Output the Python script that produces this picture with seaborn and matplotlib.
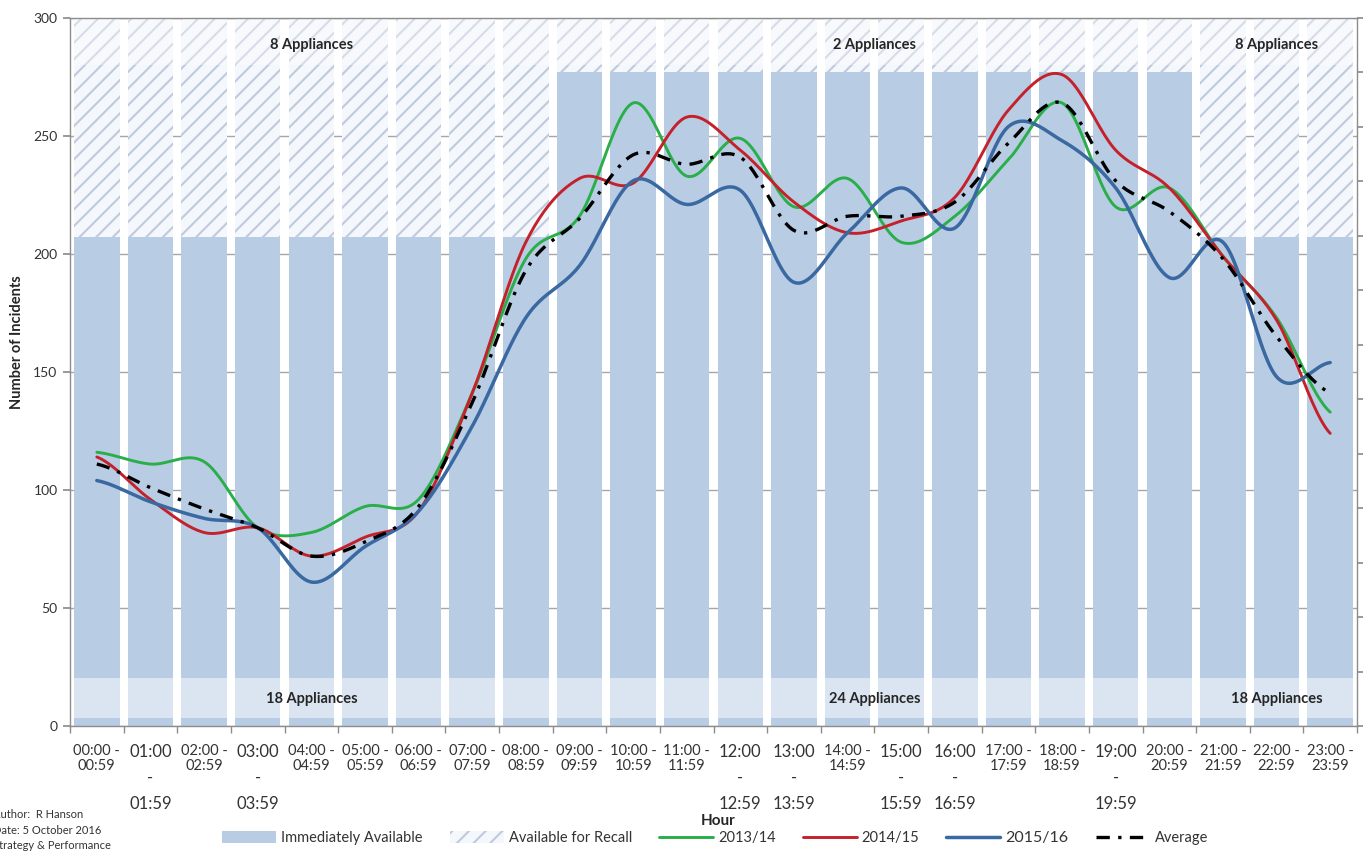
import numpy as np
import pandas as pd
import matplotlib
matplotlib.use("Agg")
import matplotlib.pyplot as plt
from matplotlib.patches import Patch
from matplotlib.lines import Line2D
import seaborn as sns

sns.set_theme(style="white")
plt.rcParams["font.family"] = ["Lato", "DejaVu Sans"]
plt.rcParams["hatch.linewidth"] = 1.5

# %% data
hours = ["00:00 -\n00:59", "01:00\n-\n01:59", "02:00 -\n02:59", "03:00\n-\n03:59",
         "04:00 -\n04:59", "05:00 -\n05:59", "06:00 -\n06:59", "07:00 -\n07:59",
         "08:00 -\n08:59", "09:00 -\n09:59", "10:00 -\n10:59", "11:00 -\n11:59",
         "12:00\n-\n12:59", "13:00\n-\n13:59", "14:00 -\n14:59", "15:00\n-\n15:59",
         "16:00\n-\n16:59", "17:00 -\n17:59", "18:00 -\n18:59", "19:00\n-\n19:59",
         "20:00 -\n20:59", "21:00 -\n21:59", "22:00 -\n22:59", "23:00 -\n23:59"]
wrapped = [1, 3, 12, 13, 15, 16, 19]   # labels Excel wrapped onto three lines

avail_now = [207, 207, 207, 207, 207, 207, 207, 207, 207,
             277, 277, 277, 277, 277, 277, 277, 277, 277, 277, 277, 277,
             207, 207, 207]
avail_total = [300] * 24

inc_1314 = [116, 111, 112, 84, 82, 93, 96, 141, 198, 216, 264, 233,
            249, 220, 232, 205, 216, 240, 264, 220, 228, 199, 173, 133]
inc_1415 = [114, 96, 82, 84, 72, 80, 91, 141, 205, 232, 230, 258,
            244, 222, 209, 214, 224, 261, 276, 244, 228, 199, 172, 124]
inc_1516 = [104, 95, 88, 84, 61, 76, 91, 127, 173, 195, 231, 221,
            227, 188, 209, 228, 211, 254, 248, 228, 190, 205, 148, 154]
inc_avg = [111, 101, 92, 84, 72, 78, 93, 137, 193, 215, 242, 238,
           241, 210, 216, 216, 222, 247, 264, 231, 218, 198, 165, 141]

groups = [(0, 8), (9, 20), (21, 23)]
recall_labels = ["8 Appliances", "2 Appliances", "8 Appliances"]
ready_labels = ["18 Appliances", "24 Appliances", "18 Appliances"]

BLUE_BAR = "#b8cce4"
BAND = "#dbe5f1"
HATCH_BG = "#f4f7fb"
HATCH = "#bfcbdd"
GREEN = "#2aae4a"
RED = "#c4212b"
DKBLUE = "#3a69a2"
GRID = "#a6a6a6"


def smooth(vals, n=24):
    # Excel-style smoothed line (Catmull-Rom through every data point)
    p = np.asarray(vals, dtype=float)
    pp = np.concatenate([[p[0]], p, [p[-1]]])
    xs, ys = [], []
    for i in range(len(p) - 1):
        p0, p1, p2, p3 = pp[i], pp[i + 1], pp[i + 2], pp[i + 3]
        t = np.linspace(0, 1, n, endpoint=False)
        y = 0.5 * ((2 * p1) + (-p0 + p2) * t + (2 * p0 - 5 * p1 + 4 * p2 - p3) * t ** 2
                   + (-p0 + 3 * p1 - 3 * p2 + p3) * t ** 3)
        xs.extend(i + t)
        ys.extend(y)
    xs.append(len(p) - 1)
    ys.append(p[-1])
    return np.array(xs), np.array(ys)


df = pd.DataFrame({"hour": np.arange(24), "now": avail_now, "total": avail_total})

fig = plt.figure(figsize=(13.65, 8.52), dpi=100)
ax = fig.add_axes([70 / 1365, 1 - 726 / 852, 1287 / 1365, 708 / 852])

# gridlines sit behind the bars and show through the gaps
ax.set_axisbelow(True)
ax.yaxis.grid(True, color=GRID, lw=1)

sns.barplot(data=df, x="hour", y="total", color=HATCH_BG, saturation=1, width=0.85,
            hatch="//", edgecolor=HATCH, linewidth=0, ax=ax)
sns.barplot(data=df, x="hour", y="now", color=BLUE_BAR, saturation=1, width=0.85,
            linewidth=0, ax=ax)
# pale bands top and bottom
ax.bar(df["hour"], [16.9] * 24, bottom=3.4, width=0.85, color=BAND, linewidth=0, zorder=2)
ax.bar(df["hour"], [20] * 24, bottom=280, width=0.85, color="white", alpha=0.35,
       linewidth=0, zorder=2)

series = [(inc_1314, GREEN, 2.1, "-"), (inc_1415, RED, 2.1, "-"),
          (inc_1516, DKBLUE, 2.5, "-"), (inc_avg, "black", 2.4, (0, (4, 2.5, 1, 2.5)))]
for vals, col, lw, ls in series:
    sx, sy = smooth(vals)
    sns.lineplot(x=sx, y=sy, ax=ax, color=col, lw=lw, linestyle=ls, sort=False,
                 estimator=None, legend=False, zorder=5)

for (a, b), top, bot in zip(groups, recall_labels, ready_labels):
    ax.text((a + b) / 2, 288.5, top, ha="center", va="center", fontsize=10.5,
            fontweight="bold", color="#262626", zorder=6)
    ax.text((a + b) / 2, 11.4, bot, ha="center", va="center", fontsize=10.5,
            fontweight="bold", color="#262626", zorder=6)

ax.set_xlim(-0.5, 23.5)
ax.set_ylim(0, 300)
ax.set_yticks(range(0, 301, 50))
ax.set_xticks(range(24))
ax.set_xticklabels(hours)
ax.set_xticks(np.arange(-0.5, 24, 1), minor=True)
ax.set_xlabel("")
ax.set_ylabel("")
ax.tick_params(axis="x", which="major", length=0, pad=13, labelsize=10.5, labelcolor="#333333")
ax.tick_params(axis="x", which="minor", length=5, color="#8c8c8c", direction="out", bottom=True)
ax.tick_params(axis="y", length=5, color="#8c8c8c", direction="out", left=True,
               labelsize=10, labelcolor="#333333", pad=4)
for i, lab in enumerate(ax.get_xticklabels()):
    if i in wrapped:
        lab.set_fontsize(12)
        lab.set_linespacing(1.75)
    else:
        lab.set_linespacing(1.05)
for sp in ax.spines.values():
    sp.set_color("#8c8c8c")
    sp.set_linewidth(1)

# right-hand appliance scale (ticks only)
ax2 = ax.twinx()
ax2.set_ylim(0, 26)
ax2.set_yticks(range(0, 27, 2))
ax2.set_yticklabels([])
ax2.tick_params(axis="y", length=4, color="#8c8c8c", direction="out", right=True)
ax2.grid(False)
for sp in ax2.spines.values():
    sp.set_visible(False)

fig.text(17 / 1365, 1 - 342 / 852, "Number of Incidents", rotation=90, ha="center",
         va="center", fontsize=10.5, fontweight="bold")
fig.text(718 / 1365, 1 - 821 / 852, "Hour", ha="center", va="center", fontsize=11,
         fontweight="bold")
fig.text(-7 / 1365, 1 - 809 / 852, "Author:  R Hanson\nDate: 5 October 2016\nStrategy & Performance",
         ha="left", va="top", fontsize=8, linespacing=1.5, color="#333333")

handles = [
    Patch(facecolor=BLUE_BAR, edgecolor="none", label="Immediately Available"),
    Patch(facecolor=HATCH_BG, edgecolor=HATCH, hatch="//", linewidth=0, label="Available for Recall"),
    Line2D([], [], color=GREEN, lw=2.1, label="2013/14"),
    Line2D([], [], color=RED, lw=2.1, label="2014/15"),
    Line2D([], [], color=DKBLUE, lw=2.5, label="2015/16"),
    Line2D([], [], color="black", lw=2.4, linestyle=(0, (4, 2.5, 1, 2.5)), label="Average"),
]
leg = fig.legend(handles=handles, ncol=6, loc="center", bbox_to_anchor=(715 / 1365, 1 - 838 / 852),
                 frameon=False, fontsize=10.5, handlelength=3.7, handleheight=0.8,
                 handletextpad=0.35, columnspacing=1.85, borderaxespad=0)
leg.get_texts()[4].set_fontsize(11.5)
for t in leg.get_texts():
    t.set_color("#333333")

fig.savefig("out.png", dpi=100)
